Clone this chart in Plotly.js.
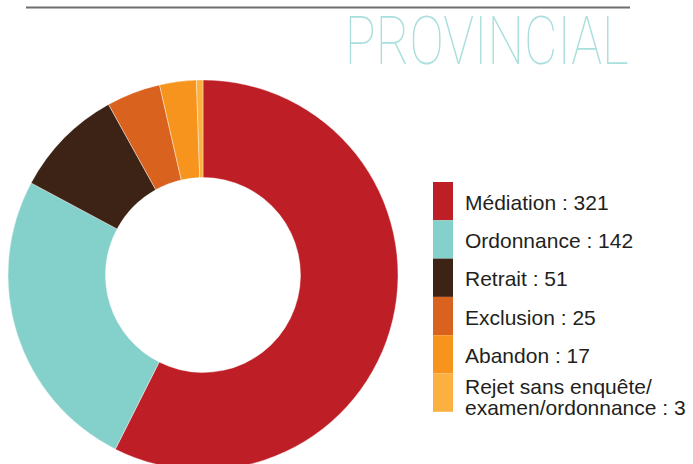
<!DOCTYPE html>
<html>
<head>
<meta charset="utf-8">
<script src="https://cdn.plot.ly/plotly-3.0.1.min.js"></script>
<style>
html,body{margin:0;padding:0;overflow:hidden;background:#fff;}
#chart{width:693px;height:470px;}
</style>
</head>
<body>
<div id="chart"></div>
<script>
const categories = ["Médiation", "Ordonnance", "Retrait", "Exclusion", "Abandon", "Rejet sans enquête/\nexamen/ordonnance"];
const values = [321, 142, 51, 25, 17, 3];
const colors = ["#BE1E25", "#83D1CA", "#3D2315", "#D9621F", "#F7941D", "#FBB040"];
const titleText = "PROVINCIAL";

const W = 693, H = 470;
const px = x => x / W;
const py = y => 1 - y / H;

const trace = {
  type: "pie",
  values: values,
  labels: categories.map(c => c.replace("\n", " ")),
  marker: {colors: colors, line: {color: "#ffffff", width: 0.4}},
  hole: 0.5,
  sort: false,
  direction: "clockwise",
  rotation: 0,
  textinfo: "none",
  hoverinfo: "skip",
  showlegend: false,
  domain: {x: [px(8), px(398)], y: [0, py(80)]}
};

const shapes = [{
  type: "line", xref: "paper", yref: "paper",
  x0: px(26), x1: px(630), y0: py(7.5), y1: py(7.5),
  line: {color: "#6e6e6e", width: 2}
}];
const annotations = [{
  text: titleText, xref: "paper", yref: "paper",
  x: px(486.5), y: py(82), xanchor: "center", yanchor: "bottom",
  showarrow: false,
  font: {family: "Roboto", size: 66, color: "#A9DFDC", weight: 100}
}];

const top0 = 182, bh = 38.3;
categories.forEach((c, i) => {
  shapes.push({
    type: "rect", xref: "paper", yref: "paper",
    x0: px(433), x1: px(453), y0: py(top0 + i * bh), y1: py(top0 + (i + 1) * bh),
    fillcolor: colors[i], line: {width: 0}
  });
  const lines = (c + " : " + values[i]).split("\n");
  const mid = top0 + i * bh + bh / 2 + 1 + (lines.length > 1 ? 3 : 0);
  const step = 21;
  lines.forEach((ln, j) => {
    annotations.push({
      text: ln, xref: "paper", yref: "paper",
      x: px(463), y: py(mid + (j - (lines.length - 1) / 2) * step),
      xanchor: "left", yanchor: "middle",
      align: "left", showarrow: false,
      font: {family: "Liberation Sans", size: 21, color: "#231F20"}
    });
  });
});

const layout = {
  width: W, height: H,
  margin: {l: 0, r: 0, t: 0, b: 0},
  paper_bgcolor: "#ffffff",
  plot_bgcolor: "#ffffff",
  showlegend: false,
  shapes: shapes,
  annotations: annotations
};

Plotly.newPlot("chart", [trace], layout, {displayModeBar: false, staticPlot: true}).then(() => {
  document.querySelectorAll(".annotation-text").forEach(t => {
    if (t.textContent === titleText) {
      t.setAttribute("textLength", "284");
      t.setAttribute("lengthAdjust", "spacingAndGlyphs");
    }
  });
});
</script>
</body>
</html>
